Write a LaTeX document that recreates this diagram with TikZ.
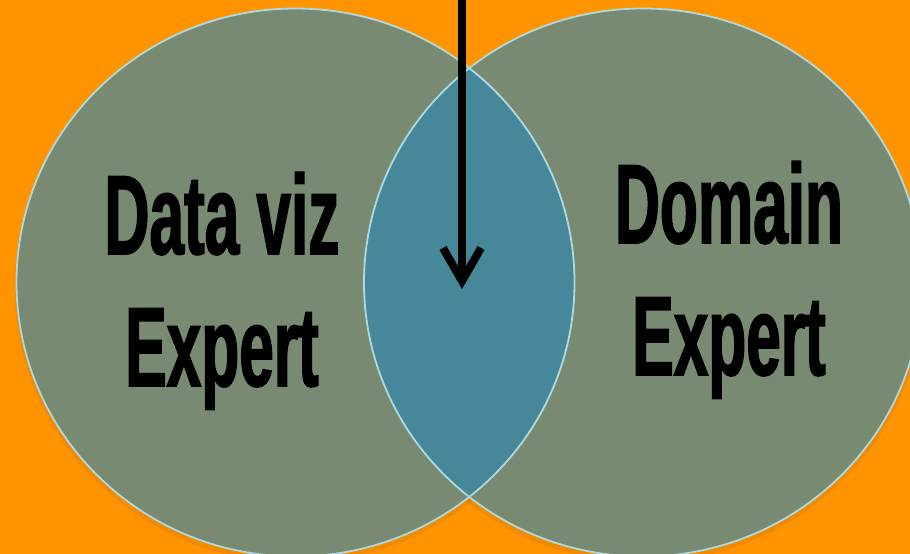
\documentclass[tikz,border=0pt]{standalone}
\usepackage{fontspec}
\usetikzlibrary{calc}
\newfontfamily\condfont[FakeStretch=0.55,FakeBold=1.3]{Liberation Sans Bold}
\definecolor{bgorange}{HTML}{FF9300}
\definecolor{circgreen}{HTML}{788A72}
\definecolor{lensblue}{HTML}{46889A}
\definecolor{rimblue}{HTML}{ADDAE0}
\tikzset{
  label/.style={font=\condfont\fontsize{113}{132}\selectfont, text=black, align=center, inner sep=0pt, anchor=north},
  rim/.style={draw=rimblue, line width=1.8pt},
  arrowline/.style={line width=8pt, black},
}
\begin{document}
\begin{tikzpicture}[x=1pt,y=-1pt]
\fill[bgorange] (0,0) rectangle (910,554);
\useasboundingbox (0,0) rectangle (910,554);
\begin{scope}
\clip (0,0) rectangle (910,554);
% soft shadows
\fill[black,opacity=0.06] (295.5,286.5) ellipse [x radius=281, y radius=276];
\fill[black,opacity=0.06] (643,286.5) ellipse [x radius=281, y radius=276];
\fill[circgreen] (295.5,282.5) ellipse [x radius=279, y radius=274];
\fill[circgreen] (643,282.5) ellipse [x radius=279, y radius=274];
\begin{scope}
\clip (295.5,282.5) ellipse [x radius=279, y radius=274];
\fill[lensblue] (643,282.5) ellipse [x radius=279, y radius=274];
\end{scope}
\draw[rim] (295.5,282.5) ellipse [x radius=279, y radius=274];
\draw[rim] (643,282.5) ellipse [x radius=279, y radius=274];
\end{scope}
\node[label] (dataviz) at (222,172) {Data viz\\Expert};
\node[label] (domain) at (729,161) {Domain\\Expert};
\coordinate (arrtop) at (462,-2);
\coordinate (arrtip) at (462,281);
\draw[arrowline] (arrtop) -- (arrtip);
\draw[arrowline, miter limit=10] ($(arrtip)+(-19,-33)$) -- (arrtip) -- ($(arrtip)+(19,-33)$);
\end{tikzpicture}
\end{document}
